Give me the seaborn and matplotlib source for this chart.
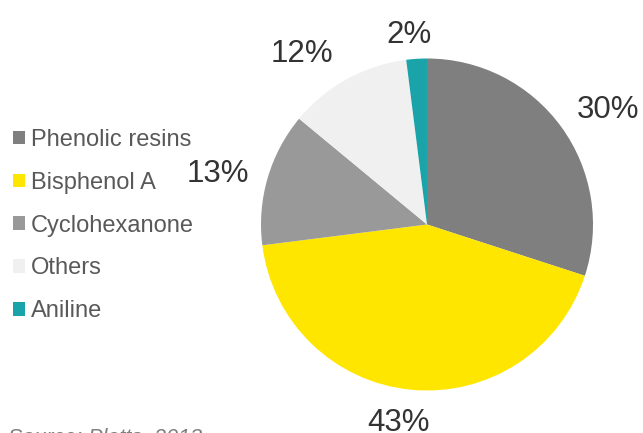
import matplotlib
matplotlib.use("Agg")
import matplotlib.pyplot as plt
from matplotlib.patches import Patch
import numpy as np
import seaborn as sns

# Uses of phenol, share of demand (%)
categories = ["Phenolic resins", "Bisphenol A", "Cyclohexanone", "Others", "Aniline"]
shares = [30, 43, 13, 12, 2]
colors = ["#7f7f7f", "#ffe600", "#999999", "#f0f0f0", "#1aa3a8"]
# percentage label placement: radial distance (in radii) and angular nudge (deg)
label_dist = [1.30, 1.19, 1.30, 1.29, 1.17]
label_nudge = [-3.0, -3.0, 1.6, 7.0, 1.6]
source_note = "Source: Platts, 2013"

sns.set_theme(style="white")
plt.rcParams["font.family"] = ["Liberation Sans", "DejaVu Sans"]

W, H = 643, 433
fig = plt.figure(figsize=(W / 100, H / 100), dpi=100)
ax = fig.add_axes([0, 0, 1, 1])

center = (427, H - 224.5)
radius = 166
wedges, _, pct_texts = ax.pie(
    shares,
    colors=colors,
    startangle=90,
    counterclock=False,
    center=center,
    radius=radius,
    autopct="%d%%",
    frame=True,
    wedgeprops=dict(linewidth=0),
    textprops=dict(fontsize=22.5, color="#333333"),
)

# place each percentage outside its wedge, near the wedge's mid angle
for w, t, d, nudge in zip(wedges, pct_texts, label_dist, label_nudge):
    mid = np.deg2rad((w.theta1 + w.theta2) / 2 + nudge)
    t.set_position((center[0] + d * radius * np.cos(mid),
                    center[1] + d * radius * np.sin(mid)))
    t.set_verticalalignment("center_baseline")

ax.set_xlim(0, W)
ax.set_ylim(0, H)
ax.set_aspect("equal")
ax.axis("off")

handles = [Patch(facecolor=c, edgecolor="none") for c in colors]
fig.legend(
    handles, categories,
    loc="upper left", bbox_to_anchor=(-0.013, 0.751),
    frameon=False, fontsize=17, labelcolor="#595959",
    handlelength=0.51, handleheight=0.51, handletextpad=0.25,
    labelspacing=0.88,
)

fig.text(8 / W, -16 / H, source_note, fontsize=15.5, style="italic",
         color="#7f7f7f", ha="left", va="bottom")

fig.savefig("out.png", dpi=100)
